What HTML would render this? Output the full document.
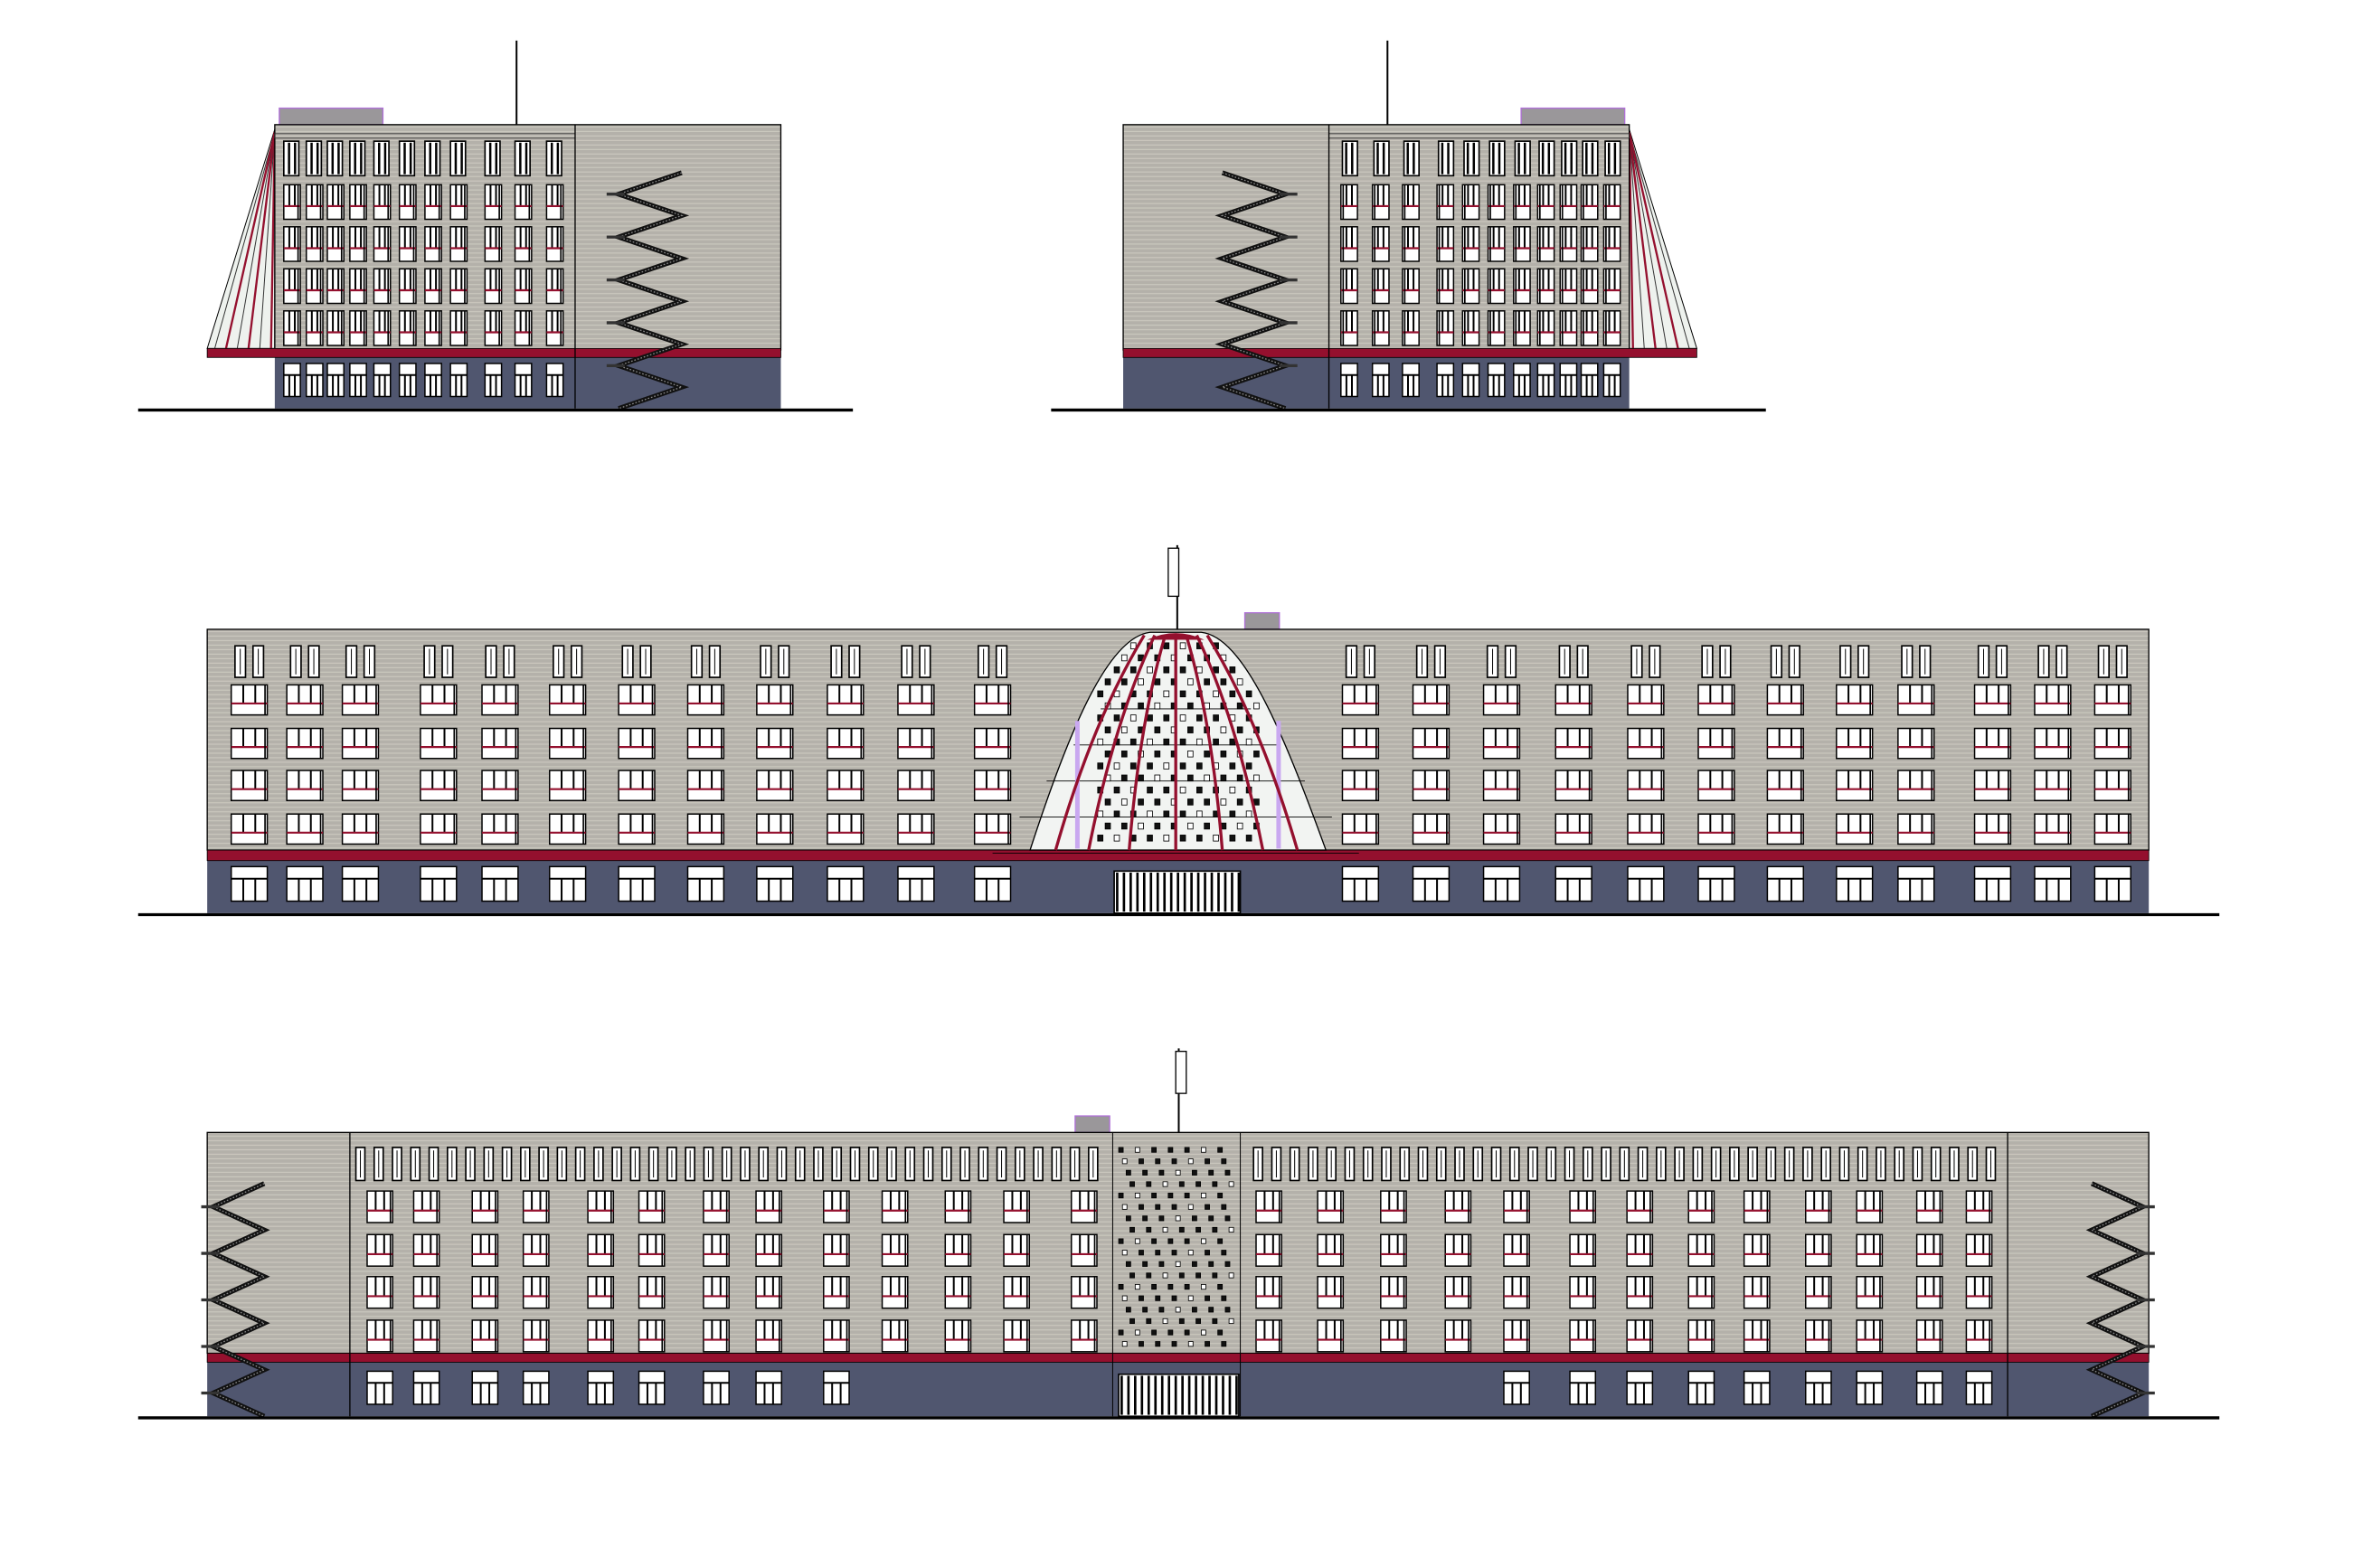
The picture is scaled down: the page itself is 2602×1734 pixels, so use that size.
<!DOCTYPE html>
<html><head><meta charset="utf-8"><style>
html,body{margin:0;padding:0;background:#fff;}
svg{display:block;}
</style></head><body>
<svg id="s" width="2602" height="1734" viewBox="0 0 1567 1044" preserveAspectRatio="none" xmlns="http://www.w3.org/2000/svg">
<defs>
<pattern id="brick" width="6" height="3" patternUnits="userSpaceOnUse">
<rect width="6" height="3" fill="#b4b1aa"/>
<line x1="0" y1="0.5" x2="6" y2="0.5" stroke="#cfccc2" stroke-width="0.6"/>
</pattern>
</defs>
<g id="root"></g>
</svg>
<script>
var out=[];
var G='#50566f',R='#94102e';
function r(x,y,w,h,f,s,sw){out.push('<rect x="'+x+'" y="'+y+'" width="'+w+'" height="'+h+'" fill="'+f+'"'+(s?' stroke="'+s+'" stroke-width="'+(sw||0.6)+'"':'')+'/>');}
function l(x1,y1,x2,y2,s,w){out.push('<line x1="'+x1+'" y1="'+y1+'" x2="'+x2+'" y2="'+y2+'" stroke="'+s+'" stroke-width="'+(w||0.6)+'"/>');}
function win(cx,y,w,h,red){
  var x=cx-w/2;
  r(x,y,w,h,'#fff','#000',0.9);
  var n=3;for(var i=1;i<n;i++)l(x+w*i/n,y,x+w*i/n,y+h*0.6,'#000',1.2);
  l(x,y+h*0.62,x+w,y+h*0.62,red?R:'#000',1.3);
  l(x+w-1.5,y,x+w-1.5,y+h,'#000',1);
}
function bwin(cx,y,w,h){
  var x=cx-w/2;
  r(x,y,w,h,'#fff','#000',0.9);
  l(x,y+h*0.35,x+w,y+h*0.35,'#000',1.2);
  for(var i=1;i<3;i++)l(x+w*i/3,y+h*0.35,x+w*i/3,y+h,'#000',1.2);
}
function nwin(cx,y,w,h){r(cx-w/2,y,w,h,'#fff','#000',1);l(cx,y+2,cx,y+h-2,'#000',0.6);}
function stair(x0,y0,y1,w,steps){
  var dy=(y1-y0)/steps;var pts=[];
  for(var i=0;i<=steps;i++){pts.push((i%2?x0:x0+w)+','+(y0+i*dy));}
  out.push('<polyline points="'+pts.join(' ')+'" fill="none" stroke="#111" stroke-width="3.2"/>');
  out.push('<polyline points="'+pts.join(' ')+'" fill="none" stroke="#888" stroke-width="0.8" stroke-dasharray="1 1.2"/>');
  for(var i=1;i<steps;i+=2){l(x0-8,y0+i*dy,x0+4,y0+i*dy,'#333',2);}
}

function b1(){
  l(344,27,344,83,'#000',1.2);
  r(186,72,69,11,'#9a979a','#b070d8',0.8);
  out.push('<polygon points="183,86 138,232 183,232" fill="#eef2ee" stroke="#000" stroke-width="0.6"/>');
  for(var i=0;i<6;i++){var bx=143+i*7.5;l(183,88,bx,232,i%2?R:'#333',i%2?1.4:0.6);}
  r(183,83,337,150,'url(#brick)','#000',0.8);
  r(183,89,200,3,'none','#333',0.5);
  r(183,238,337,34,G);
  r(138,232,382,6,R,'#000',0.5);
  l(383,83,383,272,'#000',0.8);
  var cols=[189,204,218,233,249,266,283,300,323,343,364];
  cols.forEach(function(x){
    var cx=x+5.5;
    r(x,94,10,23,'#fff','#000',1);l(cx-2,95,cx-2,116,'#000',1.5);l(cx+2,95,cx+2,116,'#000',1.5);
    [123,151,179,207].forEach(function(y){win(cx,y,11,23,true);});
    bwin(cx,242,11,22);
  });
  stair(412,115,272,42,11);
  l(92,273,568,273,'#000',2);
}
b1();
var part1=out.join('');out=[];
b1();
var part2='<g transform="matrix(-1,0,0,1,1268,0)">'+out.join('')+'</g>';
out=[];

l(784,363,784,420,'#000',1.2);
r(778,365,7,32,'#fff','#000',0.8);
r(829,408,23,11,'#9a979a','#b070d8',0.8);
r(138,419,1293,147,'url(#brick)','#000',0.8);
r(138,573,1293,35,G);
r(138,566,1293,7,R,'#000',0.5);
var L3=[166,203,240,292,333,378,424,470,516,563,610,661],R3=[906,953,1000,1048,1096,1143,1189,1235,1276,1327,1367,1407];
L3.concat(R3).forEach(function(cx){
  nwin(cx-6,430,7,21);nwin(cx+6,430,7,21);
  [456,485,513,542].forEach(function(y){win(cx,y,24,20,true);});
  bwin(cx,577,24,23);
});
out.push('<path d="M686,566 C712,486 738,424 766,421 L800,421 C828,424 854,486 883,566 Z" fill="#f2f4f2" stroke="#000" stroke-width="0.8"/>');
for(var k=0;k<5;k++){var yy=450+k*24;var hw=30+k*18;l(783-hw-20,yy+22,783+hw+20,yy+22,'#000',0.5);}
for(var yy=428,row=0;yy<562;yy+=8,row++){for(var xx=720;xx<850;xx+=11){var px=xx+(row%2)*5;
 var t=(yy-420)/146;var half=22+85*Math.sqrt(t);if(Math.abs(px-783)<half-10&&Math.abs(px-783)<58)r(px,yy,3.5,4,((row*5+xx)%3==0)?'#fff':'#111','#000',0.5);}}
r(716,480,3,85,'#c9a8f0');r(850,480,3,85,'#c9a8f0');
var ribs=[[703,762],[725,769],[752,776],[783,783],[814,790],[841,797],[864,804]];
ribs.forEach(function(p){out.push('<path d="M'+p[0]+',566 Q'+((p[0]+p[1])/2+(p[0]<783?-5:p[0]>783?5:0))+',480 '+p[1]+',423" fill="none" stroke="'+R+'" stroke-width="2"/>');});
out.push('<path d="M764,426 Q783,417 802,426 Z" fill="'+R+'"/>');
r(742,580,84,28,'#fff','#000',1);
for(var dx=744;dx<826;dx+=4.5)l(dx,581,dx,607,'#000',1.6);
l(92,609,1478,609,'#000',2);

l(785,698,785,754,'#000',1.2);
r(783,700,7,28,'#fff','#000',0.8);
r(716,743,23,11,'#9a979a','#b070d8',0.8);
r(138,754,1293,147,'url(#brick)','#000',0.8);
r(138,907,1293,36,G);
r(138,901,1293,6,R,'#000',0.5);
l(233,754,233,943,'#000',0.8);l(1337,754,1337,943,'#000',0.8);
l(741,754,741,943,'#000',0.6);l(826,754,826,943,'#000',0.6);
for(var yy=764,row=0;yy<898;yy+=7.6,row++){for(var xx=745;xx<822;xx+=11){var px=xx+((row%4)*2.5);r(px,yy,3,3.2,(row*3+xx)%4==0?'#fff':'#111','#000',0.5);}}
for(var xx=240;xx<1333;xx+=12.2){if(xx>738&&xx<830)continue;nwin(xx,764,6,22);}
var L4=[253,284,323,357,400,434,477,512,557,596,638,677,722],R4=[845,886,928,971,1010,1054,1092,1133,1170,1211,1245,1285,1318];
L4.concat(R4).forEach(function(cx){[793,822,850,879].forEach(function(y){win(cx,y,17,21,true);});});
[253,284,323,357,400,434,477,512,557].concat([1010,1054,1092,1133,1170,1211,1245,1285,1318]).forEach(function(cx){bwin(cx,913,17,22);});
r(745,915,80,28,'#fff','#000',1);
for(var dx=747;dx<825;dx+=4.5)l(dx,916,dx,942,'#000',1.6);
stair(142,788,943,34,10);
out.push('<g transform="matrix(-1,0,0,1,1569,0)">');
stair(142,788,943,34,10);out.push('</g>');
l(92,944,1478,944,'#000',2);

document.getElementById('root').innerHTML=part1+part2+out.join('');
</script>
</body></html>
